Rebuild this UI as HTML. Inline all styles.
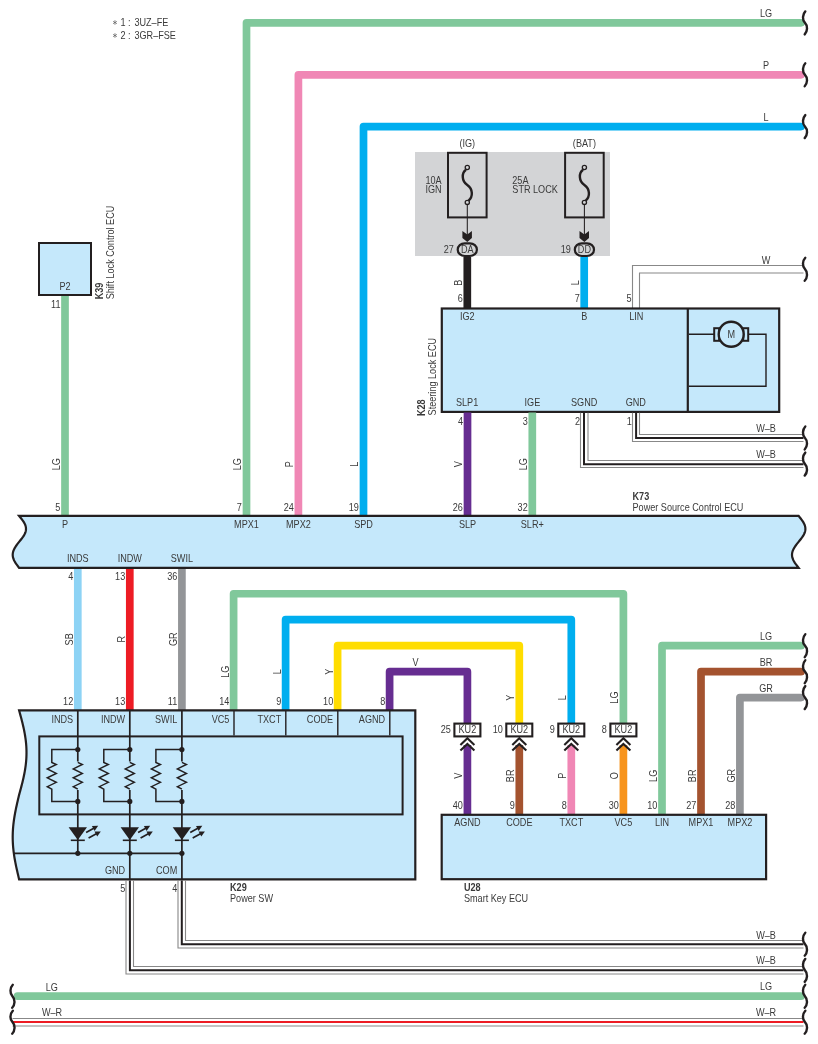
<!DOCTYPE html>
<html><head><meta charset="utf-8"><style>
html,body{margin:0;padding:0;background:#fff;}
svg{display:block;font-family:"Liberation Sans",sans-serif;}
svg{will-change:transform;}
</style></head><body>
<svg width="818" height="1044" viewBox="0 0 818 1044">
<rect width="818" height="1044" fill="#fff"/>
<text transform="translate(112.4,25.299999999999997) scale(0.885,1)" text-anchor="start" font-size="7.70" fill="#666">∗</text>
<text transform="translate(120.4,25.9) scale(0.885,1)" text-anchor="start" font-size="10.30" fill="#3a3a3a">1</text>
<text transform="translate(129.3,25.9) scale(0.885,1)" text-anchor="middle" font-size="10.30" fill="#3a3a3a">:</text>
<text transform="translate(134.4,25.9) scale(0.885,1)" text-anchor="start" font-size="10.30" fill="#3a3a3a">3UZ–FE</text>
<text transform="translate(112.4,38.1) scale(0.885,1)" text-anchor="start" font-size="7.70" fill="#666">∗</text>
<text transform="translate(120.4,38.7) scale(0.885,1)" text-anchor="start" font-size="10.30" fill="#3a3a3a">2</text>
<text transform="translate(129.3,38.7) scale(0.885,1)" text-anchor="middle" font-size="10.30" fill="#3a3a3a">:</text>
<text transform="translate(134.4,38.7) scale(0.885,1)" text-anchor="start" font-size="10.30" fill="#3a3a3a">3GR–FSE</text>
<path d="M246.5,516 V22.85 H801" fill="none" stroke="#80c89b" stroke-width="7.7" stroke-linejoin="round" stroke-linecap="round"/>
<path d="M298.4,516 V74.8 H801" fill="none" stroke="#f087b5" stroke-width="7.7" stroke-linejoin="round" stroke-linecap="round"/>
<path d="M363.5,516 V126.6 H801" fill="none" stroke="#00aeef" stroke-width="7.7" stroke-linejoin="round" stroke-linecap="round"/>
<path d="M805.3,11.4 C802.5,14.4 802.0,19.9 805.0,22.9 C808.0,25.9 807.5,31.4 804.7,34.4" fill="none" stroke="#231f20" stroke-width="2.4" stroke-linecap="round"/>
<path d="M805.3,63.3 C802.5,66.3 802.0,71.8 805.0,74.8 C808.0,77.8 807.5,83.3 804.7,86.3" fill="none" stroke="#231f20" stroke-width="2.4" stroke-linecap="round"/>
<path d="M805.3,115.1 C802.5,118.1 802.0,123.6 805.0,126.6 C808.0,129.6 807.5,135.1 804.7,138.1" fill="none" stroke="#231f20" stroke-width="2.4" stroke-linecap="round"/>
<text transform="translate(766,17.3) scale(0.885,1)" text-anchor="middle" font-size="10.30" fill="#3a3a3a">LG</text>
<text transform="translate(766,69.2) scale(0.885,1)" text-anchor="middle" font-size="10.30" fill="#3a3a3a">P</text>
<text transform="translate(766,121.2) scale(0.885,1)" text-anchor="middle" font-size="10.30" fill="#3a3a3a">L</text>
<rect x="415" y="152" width="195" height="104" fill="#d3d4d6"/>
<rect x="448.0" y="152.8" width="38.6" height="64.6" fill="none" stroke="#231f20" stroke-width="2"/>
<text transform="translate(467.3,146.5) scale(0.885,1)" text-anchor="middle" font-size="10.30" fill="#3a3a3a">(IG)</text>
<circle cx="467.3" cy="167.5" r="2.1" fill="none" stroke="#231f20" stroke-width="1.3"/>
<circle cx="467.3" cy="202.4" r="2.1" fill="none" stroke="#231f20" stroke-width="1.3"/>
<path d="M466.0,169.8 C461.5,173 461.5,181 467.3,185 C473.1,189 473.1,197 468.6,200.5" fill="none" stroke="#231f20" stroke-width="2.4"/>
<path d="M467.3,204.5 V236" stroke="#231f20" stroke-width="1.05"/>
<path d="M462.40000000000003,231.1 L467.3,234.6 L471.90000000000003,231.1 L471.90000000000003,237.9 L467.3,242 L462.40000000000003,237.9 Z" fill="#231f20"/>
<rect x="457.7" y="243.3" width="19.2" height="12.7" rx="7" ry="6.35" fill="#d3d4d6" stroke="#231f20" stroke-width="2.2"/>
<text transform="translate(467.3,252.7) scale(0.885,1)" text-anchor="middle" font-size="10.30" fill="#3a3a3a">DA</text>
<text transform="translate(453.8,252.7) scale(0.885,1)" text-anchor="end" font-size="10.30" fill="#3a3a3a">27</text>
<rect x="565.1" y="152.8" width="38.6" height="64.6" fill="none" stroke="#231f20" stroke-width="2"/>
<text transform="translate(584.4,146.5) scale(0.885,1)" text-anchor="middle" font-size="10.30" fill="#3a3a3a">(BAT)</text>
<circle cx="584.4" cy="167.5" r="2.1" fill="none" stroke="#231f20" stroke-width="1.3"/>
<circle cx="584.4" cy="202.4" r="2.1" fill="none" stroke="#231f20" stroke-width="1.3"/>
<path d="M583.1,169.8 C578.6,173 578.6,181 584.4,185 C590.1999999999999,189 590.1999999999999,197 585.6999999999999,200.5" fill="none" stroke="#231f20" stroke-width="2.4"/>
<path d="M584.4,204.5 V236" stroke="#231f20" stroke-width="1.05"/>
<path d="M579.5,231.1 L584.4,234.6 L589.0,231.1 L589.0,237.9 L584.4,242 L579.5,237.9 Z" fill="#231f20"/>
<rect x="574.8" y="243.3" width="19.2" height="12.7" rx="7" ry="6.35" fill="#d3d4d6" stroke="#231f20" stroke-width="2.2"/>
<text transform="translate(584.4,252.7) scale(0.885,1)" text-anchor="middle" font-size="10.30" fill="#3a3a3a">DD</text>
<text transform="translate(570.9,252.7) scale(0.885,1)" text-anchor="end" font-size="10.30" fill="#3a3a3a">19</text>
<text transform="translate(425.4,183.6) scale(0.885,1)" text-anchor="start" font-size="10.30" fill="#3a3a3a">10A</text>
<text transform="translate(425.4,193.3) scale(0.885,1)" text-anchor="start" font-size="10.30" fill="#3a3a3a">IGN</text>
<text transform="translate(512.3,183.6) scale(0.885,1)" text-anchor="start" font-size="10.30" fill="#3a3a3a">25A</text>
<text transform="translate(512.3,193.3) scale(0.885,1)" text-anchor="start" font-size="10.30" fill="#3a3a3a">STR LOCK</text>
<path d="M467.3,257 V308" fill="none" stroke="#231f20" stroke-width="7.7" stroke-linejoin="round" stroke-linecap="butt"/>
<path d="M584.2,257 V308" fill="none" stroke="#00aeef" stroke-width="7.7" stroke-linejoin="round" stroke-linecap="butt"/>
<text transform="translate(461.8,282.7) rotate(-90) scale(0.885,1)" text-anchor="middle" font-size="10.30" fill="#3a3a3a">B</text>
<text transform="translate(578.6,282.7) rotate(-90) scale(0.885,1)" text-anchor="middle" font-size="10.30" fill="#3a3a3a">L</text>
<text transform="translate(462.8,302.4) scale(0.885,1)" text-anchor="end" font-size="10.30" fill="#3a3a3a">6</text>
<text transform="translate(579.7,302.4) scale(0.885,1)" text-anchor="end" font-size="10.30" fill="#3a3a3a">7</text>
<path d="M632.5,309 V265.5 H803.5" fill="none" stroke="#888888" stroke-width="1.1" stroke-linejoin="miter" stroke-linecap="butt"/>
<path d="M639.5,309 V273.0 H803.5" fill="none" stroke="#888888" stroke-width="1.1" stroke-linejoin="miter" stroke-linecap="butt"/>
<path d="M805.3,257.8 C802.5,260.8 802.0,266.2 805.0,269.2 C808.0,272.2 807.5,277.8 804.7,280.8" fill="none" stroke="#231f20" stroke-width="2.4" stroke-linecap="round"/>
<text transform="translate(766,263.9) scale(0.885,1)" text-anchor="middle" font-size="10.30" fill="#3a3a3a">W</text>
<text transform="translate(631.5,302.4) scale(0.885,1)" text-anchor="end" font-size="10.30" fill="#3a3a3a">5</text>
<rect x="441.8" y="308.5" width="337.4" height="103.4" fill="#c5e8fb" stroke="#231f20" stroke-width="2.2"/>
<path d="M687.8,308.5 V411.9" stroke="#231f20" stroke-width="2.2"/>
<path d="M688.8,334.3 H716 M746,334.3 H766 V386.2 H688.8" fill="none" stroke="#231f20" stroke-width="1.4"/>
<rect x="714.2" y="328.2" width="5" height="12.6" fill="#c5e8fb" stroke="#231f20" stroke-width="2"/>
<rect x="743.2" y="328.2" width="5" height="12.6" fill="#c5e8fb" stroke="#231f20" stroke-width="2"/>
<circle cx="731.2" cy="334.2" r="12.5" fill="#c5e8fb" stroke="#231f20" stroke-width="2.4"/>
<text transform="translate(731.2,337.6) scale(0.885,1)" text-anchor="middle" font-size="10.30" fill="#3a3a3a">M</text>
<text transform="translate(467.3,320.2) scale(0.885,1)" text-anchor="middle" font-size="10.30" fill="#3a3a3a">IG2</text>
<text transform="translate(584.2,320.2) scale(0.885,1)" text-anchor="middle" font-size="10.30" fill="#3a3a3a">B</text>
<text transform="translate(636.3,320.2) scale(0.885,1)" text-anchor="middle" font-size="10.30" fill="#3a3a3a">LIN</text>
<text transform="translate(467.1,406.3) scale(0.885,1)" text-anchor="middle" font-size="10.30" fill="#3a3a3a">SLP1</text>
<text transform="translate(532.4,406.3) scale(0.885,1)" text-anchor="middle" font-size="10.30" fill="#3a3a3a">IGE</text>
<text transform="translate(584.2,406.3) scale(0.885,1)" text-anchor="middle" font-size="10.30" fill="#3a3a3a">SGND</text>
<text transform="translate(635.8,406.3) scale(0.885,1)" text-anchor="middle" font-size="10.30" fill="#3a3a3a">GND</text>
<text transform="translate(425,407.7) rotate(-90) scale(0.885,1)" text-anchor="middle" font-size="10.30" font-weight="bold" fill="#3a3a3a">K28</text>
<text transform="translate(436,415.4) rotate(-90) scale(0.885,1)" text-anchor="start" font-size="10.30" fill="#3a3a3a">Steering Lock ECU</text>
<path d="M467.5,412.5 V516" fill="none" stroke="#662d91" stroke-width="7.7" stroke-linejoin="round" stroke-linecap="butt"/>
<path d="M532.3,412.5 V516" fill="none" stroke="#80c89b" stroke-width="7.7" stroke-linejoin="round" stroke-linecap="butt"/>
<path d="M580.5,412.8 V467.5 H803.5" fill="none" stroke="#888888" stroke-width="1.1" stroke-linejoin="miter" stroke-linecap="butt"/>
<path d="M588.0,412.8 V460.5 H803.5" fill="none" stroke="#888888" stroke-width="1.1" stroke-linejoin="miter" stroke-linecap="butt"/>
<path d="M584.0,412.8 V464.2 H803.5" fill="none" stroke="#231f20" stroke-width="2.0" stroke-linejoin="miter" stroke-linecap="butt"/>
<path d="M632.5,412.8 V441.5 H803.5" fill="none" stroke="#888888" stroke-width="1.1" stroke-linejoin="miter" stroke-linecap="butt"/>
<path d="M639.5,412.8 V434.5 H803.5" fill="none" stroke="#888888" stroke-width="1.1" stroke-linejoin="miter" stroke-linecap="butt"/>
<path d="M636.1,412.8 V438.0 H803.5" fill="none" stroke="#231f20" stroke-width="2.0" stroke-linejoin="miter" stroke-linecap="butt"/>
<path d="M805.3,426.5 C802.5,429.5 802.0,435.0 805.0,438.0 C808.0,441.0 807.5,446.5 804.7,449.5" fill="none" stroke="#231f20" stroke-width="2.4" stroke-linecap="round"/>
<path d="M805.3,452.6 C802.5,455.6 802.0,461.1 805.0,464.1 C808.0,467.1 807.5,472.6 804.7,475.6" fill="none" stroke="#231f20" stroke-width="2.4" stroke-linecap="round"/>
<text transform="translate(766,432.4) scale(0.885,1)" text-anchor="middle" font-size="10.30" fill="#3a3a3a">W–B</text>
<text transform="translate(766,458.3) scale(0.885,1)" text-anchor="middle" font-size="10.30" fill="#3a3a3a">W–B</text>
<text transform="translate(463,424.6) scale(0.885,1)" text-anchor="end" font-size="10.30" fill="#3a3a3a">4</text>
<text transform="translate(527.8,424.6) scale(0.885,1)" text-anchor="end" font-size="10.30" fill="#3a3a3a">3</text>
<text transform="translate(580,424.6) scale(0.885,1)" text-anchor="end" font-size="10.30" fill="#3a3a3a">2</text>
<text transform="translate(631.9,424.6) scale(0.885,1)" text-anchor="end" font-size="10.30" fill="#3a3a3a">1</text>
<rect x="39" y="243" width="52" height="52" fill="#c5e8fb" stroke="#231f20" stroke-width="2"/>
<path d="M65,296 V516" fill="none" stroke="#80c89b" stroke-width="7.7" stroke-linejoin="round" stroke-linecap="butt"/>
<text transform="translate(65.1,289.8) scale(0.885,1)" text-anchor="middle" font-size="10.30" fill="#3a3a3a">P2</text>
<text transform="translate(60.5,308.2) scale(0.885,1)" text-anchor="end" font-size="10.30" fill="#3a3a3a">11</text>
<text transform="translate(102.9,299.3) rotate(-90) scale(0.885,1)" text-anchor="start" font-size="10.30" font-weight="bold" fill="#3a3a3a">K39</text>
<text transform="translate(113.6,299.3) rotate(-90) scale(0.885,1)" text-anchor="start" font-size="10.30" fill="#3a3a3a">Shift Lock Control ECU</text>
<text transform="translate(59.8,464.2) rotate(-90) scale(0.885,1)" text-anchor="middle" font-size="10.30" fill="#3a3a3a">LG</text>
<text transform="translate(241.3,464.2) rotate(-90) scale(0.885,1)" text-anchor="middle" font-size="10.30" fill="#3a3a3a">LG</text>
<text transform="translate(293.2,464.2) rotate(-90) scale(0.885,1)" text-anchor="middle" font-size="10.30" fill="#3a3a3a">P</text>
<text transform="translate(358.3,464.2) rotate(-90) scale(0.885,1)" text-anchor="middle" font-size="10.30" fill="#3a3a3a">L</text>
<text transform="translate(462.3,464.2) rotate(-90) scale(0.885,1)" text-anchor="middle" font-size="10.30" fill="#3a3a3a">V</text>
<text transform="translate(527.0999999999999,464.2) rotate(-90) scale(0.885,1)" text-anchor="middle" font-size="10.30" fill="#3a3a3a">LG</text>
<text transform="translate(60.4,510.7) scale(0.885,1)" text-anchor="end" font-size="10.30" fill="#3a3a3a">5</text>
<text transform="translate(241.9,510.7) scale(0.885,1)" text-anchor="end" font-size="10.30" fill="#3a3a3a">7</text>
<text transform="translate(293.79999999999995,510.7) scale(0.885,1)" text-anchor="end" font-size="10.30" fill="#3a3a3a">24</text>
<text transform="translate(358.9,510.7) scale(0.885,1)" text-anchor="end" font-size="10.30" fill="#3a3a3a">19</text>
<text transform="translate(462.9,510.7) scale(0.885,1)" text-anchor="end" font-size="10.30" fill="#3a3a3a">26</text>
<text transform="translate(527.6999999999999,510.7) scale(0.885,1)" text-anchor="end" font-size="10.30" fill="#3a3a3a">32</text>
<path d="M77.8,567 V710" fill="none" stroke="#8dd3f5" stroke-width="7.7" stroke-linejoin="round" stroke-linecap="butt"/>
<path d="M129.8,567 V710" fill="none" stroke="#ed1c24" stroke-width="7.7" stroke-linejoin="round" stroke-linecap="butt"/>
<path d="M181.9,567 V710" fill="none" stroke="#939598" stroke-width="7.7" stroke-linejoin="round" stroke-linecap="butt"/>
<text transform="translate(72.6,639.3) rotate(-90) scale(0.885,1)" text-anchor="middle" font-size="10.30" fill="#3a3a3a">SB</text>
<text transform="translate(124.60000000000001,639.3) rotate(-90) scale(0.885,1)" text-anchor="middle" font-size="10.30" fill="#3a3a3a">R</text>
<text transform="translate(176.70000000000002,639.3) rotate(-90) scale(0.885,1)" text-anchor="middle" font-size="10.30" fill="#3a3a3a">GR</text>
<text transform="translate(73.2,580.2) scale(0.885,1)" text-anchor="end" font-size="10.30" fill="#3a3a3a">4</text>
<text transform="translate(125.20000000000002,580.2) scale(0.885,1)" text-anchor="end" font-size="10.30" fill="#3a3a3a">13</text>
<text transform="translate(177.3,580.2) scale(0.885,1)" text-anchor="end" font-size="10.30" fill="#3a3a3a">36</text>
<text transform="translate(73.2,704.8) scale(0.885,1)" text-anchor="end" font-size="10.30" fill="#3a3a3a">12</text>
<text transform="translate(125.20000000000002,704.8) scale(0.885,1)" text-anchor="end" font-size="10.30" fill="#3a3a3a">13</text>
<text transform="translate(177.3,704.8) scale(0.885,1)" text-anchor="end" font-size="10.30" fill="#3a3a3a">11</text>
<text transform="translate(229.4,704.8) scale(0.885,1)" text-anchor="end" font-size="10.30" fill="#3a3a3a">14</text>
<text transform="translate(281.2,704.8) scale(0.885,1)" text-anchor="end" font-size="10.30" fill="#3a3a3a">9</text>
<text transform="translate(333.2,704.8) scale(0.885,1)" text-anchor="end" font-size="10.30" fill="#3a3a3a">10</text>
<text transform="translate(385.2,704.8) scale(0.885,1)" text-anchor="end" font-size="10.30" fill="#3a3a3a">8</text>
<path d="M233.6,710 V593.75 H623.4 V723" fill="none" stroke="#80c89b" stroke-width="7.7" stroke-linejoin="round" stroke-linecap="butt"/>
<path d="M285.6,710 V619.7 H571.3 V723" fill="none" stroke="#00aeef" stroke-width="7.7" stroke-linejoin="round" stroke-linecap="butt"/>
<path d="M337.6,710 V645.7 H519.3 V723" fill="none" stroke="#ffdd00" stroke-width="7.7" stroke-linejoin="round" stroke-linecap="butt"/>
<path d="M389.6,710 V671.7 H467.4 V723" fill="none" stroke="#662d91" stroke-width="7.7" stroke-linejoin="round" stroke-linecap="butt"/>
<text transform="translate(415.5,665.7) scale(0.885,1)" text-anchor="middle" font-size="10.30" fill="#3a3a3a">V</text>
<text transform="translate(228.8,671.7) rotate(-90) scale(0.885,1)" text-anchor="middle" font-size="10.30" fill="#3a3a3a">LG</text>
<text transform="translate(280.6,671.7) rotate(-90) scale(0.885,1)" text-anchor="middle" font-size="10.30" fill="#3a3a3a">L</text>
<text transform="translate(332.6,671.7) rotate(-90) scale(0.885,1)" text-anchor="middle" font-size="10.30" fill="#3a3a3a">Y</text>
<text transform="translate(514.0999999999999,697.6) rotate(-90) scale(0.885,1)" text-anchor="middle" font-size="10.30" fill="#3a3a3a">Y</text>
<text transform="translate(566.0999999999999,697.6) rotate(-90) scale(0.885,1)" text-anchor="middle" font-size="10.30" fill="#3a3a3a">L</text>
<text transform="translate(618.1999999999999,697.6) rotate(-90) scale(0.885,1)" text-anchor="middle" font-size="10.30" fill="#3a3a3a">LG</text>
<path d="M19.1,515.9 L798.60,515.90 L799.66,517.20 L800.70,518.50 L801.69,519.79 L802.60,521.09 L803.41,522.39 L804.10,523.68 L804.66,524.98 L805.07,526.28 L805.32,527.58 L805.40,528.88 L805.32,530.17 L805.07,531.47 L804.66,532.77 L804.10,534.06 L803.41,535.36 L802.60,536.66 L801.69,537.96 L800.70,539.25 L799.66,540.55 L798.60,541.85 L797.57,543.15 L796.56,544.44 L795.60,545.74 L794.72,547.04 L793.93,548.34 L793.26,549.63 L792.72,550.93 L792.32,552.23 L792.08,553.53 L792.00,554.82 L792.08,556.12 L792.32,557.42 L792.72,558.72 L793.26,560.01 L793.93,561.31 L794.72,562.61 L795.60,563.91 L796.56,565.20 L797.57,566.50 L798.60,567.80 L19.10,567.80 L18.10,566.50 L17.12,565.20 L16.19,563.91 L15.34,562.61 L14.57,561.31 L13.92,560.01 L13.40,558.72 L13.01,557.42 L12.78,556.12 L12.70,554.82 L12.78,553.53 L13.01,552.23 L13.40,550.93 L13.92,549.63 L14.57,548.34 L15.34,547.04 L16.19,545.74 L17.12,544.44 L18.10,543.15 L19.10,541.85 L20.18,540.55 L21.23,539.25 L22.23,537.96 L23.16,536.66 L23.98,535.36 L24.68,534.06 L25.25,532.77 L25.66,531.47 L25.92,530.17 L26.00,528.88 L25.92,527.58 L25.66,526.28 L25.25,524.98 L24.68,523.68 L23.98,522.39 L23.16,521.09 L22.23,519.79 L21.23,518.50 L20.18,517.20 L19.10,515.90 Z" fill="#c5e8fb" stroke="#231f20" stroke-width="2.2" stroke-linejoin="miter"/>
<text transform="translate(632.5,499.8) scale(0.885,1)" text-anchor="start" font-size="10.30" font-weight="bold" fill="#3a3a3a">K73</text>
<text transform="translate(632.5,510.7) scale(0.885,1)" text-anchor="start" font-size="10.30" fill="#3a3a3a">Power Source Control ECU</text>
<text transform="translate(65,527.5) scale(0.885,1)" text-anchor="middle" font-size="10.30" fill="#3a3a3a">P</text>
<text transform="translate(246.5,527.5) scale(0.885,1)" text-anchor="middle" font-size="10.30" fill="#3a3a3a">MPX1</text>
<text transform="translate(298.4,527.5) scale(0.885,1)" text-anchor="middle" font-size="10.30" fill="#3a3a3a">MPX2</text>
<text transform="translate(363.5,527.5) scale(0.885,1)" text-anchor="middle" font-size="10.30" fill="#3a3a3a">SPD</text>
<text transform="translate(467.5,527.5) scale(0.885,1)" text-anchor="middle" font-size="10.30" fill="#3a3a3a">SLP</text>
<text transform="translate(532.3,527.5) scale(0.885,1)" text-anchor="middle" font-size="10.30" fill="#3a3a3a">SLR+</text>
<text transform="translate(77.8,562.4) scale(0.885,1)" text-anchor="middle" font-size="10.30" fill="#3a3a3a">INDS</text>
<text transform="translate(129.8,562.4) scale(0.885,1)" text-anchor="middle" font-size="10.30" fill="#3a3a3a">INDW</text>
<text transform="translate(181.9,562.4) scale(0.885,1)" text-anchor="middle" font-size="10.30" fill="#3a3a3a">SWIL</text>
<path d="M19.1,710.4 H415.3 V879.3 L19.10,879.30 L18.60,877.19 L18.10,875.08 L17.61,872.97 L17.12,870.86 L16.65,868.74 L16.19,866.63 L15.76,864.52 L15.34,862.41 L14.94,860.30 L14.57,858.19 L14.23,856.08 L13.92,853.96 L13.64,851.85 L13.40,849.74 L13.19,847.63 L13.01,845.52 L12.88,843.41 L12.78,841.30 L12.72,839.19 L12.70,837.07 L12.72,834.96 L12.78,832.85 L12.88,830.74 L13.01,828.63 L13.19,826.52 L13.40,824.41 L13.64,822.30 L13.92,820.18 L14.23,818.07 L14.57,815.96 L14.94,813.85 L15.34,811.74 L15.76,809.63 L16.19,807.52 L16.65,805.41 L17.12,803.29 L17.61,801.18 L18.10,799.07 L18.60,796.96 L19.10,794.85 L19.68,792.74 L20.26,790.63 L20.83,788.52 L21.39,786.40 L21.93,784.29 L22.46,782.18 L22.97,780.07 L23.45,777.96 L23.91,775.85 L24.33,773.74 L24.73,771.63 L25.09,769.51 L25.41,767.40 L25.69,765.29 L25.94,763.18 L26.14,761.07 L26.30,758.96 L26.41,756.85 L26.48,754.74 L26.50,752.62 L26.48,750.51 L26.41,748.40 L26.30,746.29 L26.14,744.18 L25.94,742.07 L25.69,739.96 L25.41,737.85 L25.09,735.74 L24.73,733.62 L24.33,731.51 L23.91,729.40 L23.45,727.29 L22.97,725.18 L22.46,723.07 L21.93,720.96 L21.39,718.85 L20.83,716.73 L20.26,714.62 L19.68,712.51 L19.10,710.40 Z" fill="#c5e8fb" stroke="#231f20" stroke-width="2.2"/>
<rect x="39.3" y="736.4" width="363.3" height="78" fill="none" stroke="#231f20" stroke-width="2"/>
<path d="M234,711 V735.5" stroke="#231f20" stroke-width="1.4"/>
<path d="M285.8,711 V735.5" stroke="#231f20" stroke-width="1.4"/>
<path d="M337.8,711 V735.5" stroke="#231f20" stroke-width="1.4"/>
<path d="M389.8,711 V735.5" stroke="#231f20" stroke-width="1.4"/>
<text transform="translate(73.2,723.2) scale(0.885,1)" text-anchor="end" font-size="10.30" fill="#3a3a3a">INDS</text>
<text transform="translate(125.20000000000002,723.2) scale(0.885,1)" text-anchor="end" font-size="10.30" fill="#3a3a3a">INDW</text>
<text transform="translate(177.3,723.2) scale(0.885,1)" text-anchor="end" font-size="10.30" fill="#3a3a3a">SWIL</text>
<text transform="translate(229.4,723.2) scale(0.885,1)" text-anchor="end" font-size="10.30" fill="#3a3a3a">VC5</text>
<text transform="translate(281.2,723.2) scale(0.885,1)" text-anchor="end" font-size="10.30" fill="#3a3a3a">TXCT</text>
<text transform="translate(333.2,723.2) scale(0.885,1)" text-anchor="end" font-size="10.30" fill="#3a3a3a">CODE</text>
<text transform="translate(385.2,723.2) scale(0.885,1)" text-anchor="end" font-size="10.30" fill="#3a3a3a">AGND</text>
<path d="M77.8,711 V853.3 M129.8,711 V879 M181.9,711 V879" stroke="#231f20" stroke-width="1.7"/>
<path d="M14,853.3 H181.9" stroke="#231f20" stroke-width="1.7"/>
<path d="M77.8,749.4 H51.8 V762.4 L51.8,762.4 L56.3,764.5 L47.3,768.9 L56.3,773.4 L47.3,777.8 L56.3,782.3 L47.3,786.7 L51.8,789.2 V801.4 H77.8" fill="none" stroke="#231f20" stroke-width="1.5"/>
<path d="M77.8,761.5 V790" stroke="#c5e8fb" stroke-width="3"/>
<path d="M77.8,762.4 L82.3,764.5 L73.3,768.9 L82.3,773.4 L73.3,777.8 L82.3,782.3 L73.3,786.7 L77.8,789.2" fill="none" stroke="#231f20" stroke-width="1.5"/>
<circle cx="77.8" cy="749.5" r="2.6" fill="#231f20"/>
<circle cx="77.8" cy="801.4" r="2.6" fill="#231f20"/>
<circle cx="77.8" cy="853.3" r="2.6" fill="#231f20"/>
<path d="M68.6,827.3 H87.0 L77.8,840 Z" fill="#231f20"/>
<path d="M70.8,840.3 H84.8" stroke="#231f20" stroke-width="1.6"/>
<path d="M86.1,832.4 L94.2,828.0" stroke="#231f20" stroke-width="1.7"/>
<path d="M98.2,825.8 L94.6,830.9 L91.9,826.0 Z" fill="#231f20"/>
<path d="M88.6,838.0 L96.8,833.6" stroke="#231f20" stroke-width="1.7"/>
<path d="M100.8,831.4 L97.2,836.5 L94.5,831.6 Z" fill="#231f20"/>
<path d="M129.8,749.4 H103.80000000000001 V762.4 L103.8,762.4 L108.3,764.5 L99.3,768.9 L108.3,773.4 L99.3,777.8 L108.3,782.3 L99.3,786.7 L103.8,789.2 V801.4 H129.8" fill="none" stroke="#231f20" stroke-width="1.5"/>
<path d="M129.8,761.5 V790" stroke="#c5e8fb" stroke-width="3"/>
<path d="M129.8,762.4 L134.3,764.5 L125.3,768.9 L134.3,773.4 L125.3,777.8 L134.3,782.3 L125.3,786.7 L129.8,789.2" fill="none" stroke="#231f20" stroke-width="1.5"/>
<circle cx="129.8" cy="749.5" r="2.6" fill="#231f20"/>
<circle cx="129.8" cy="801.4" r="2.6" fill="#231f20"/>
<circle cx="129.8" cy="853.3" r="2.6" fill="#231f20"/>
<path d="M120.60000000000001,827.3 H139.0 L129.8,840 Z" fill="#231f20"/>
<path d="M122.80000000000001,840.3 H136.8" stroke="#231f20" stroke-width="1.6"/>
<path d="M138.1,832.4 L146.2,828.0" stroke="#231f20" stroke-width="1.7"/>
<path d="M150.2,825.8 L146.6,830.9 L143.9,826.0 Z" fill="#231f20"/>
<path d="M140.6,838.0 L148.8,833.6" stroke="#231f20" stroke-width="1.7"/>
<path d="M152.8,831.4 L149.2,836.5 L146.5,831.6 Z" fill="#231f20"/>
<path d="M181.9,749.4 H155.9 V762.4 L155.9,762.4 L160.4,764.5 L151.4,768.9 L160.4,773.4 L151.4,777.8 L160.4,782.3 L151.4,786.7 L155.9,789.2 V801.4 H181.9" fill="none" stroke="#231f20" stroke-width="1.5"/>
<path d="M181.9,761.5 V790" stroke="#c5e8fb" stroke-width="3"/>
<path d="M181.9,762.4 L186.4,764.5 L177.4,768.9 L186.4,773.4 L177.4,777.8 L186.4,782.3 L177.4,786.7 L181.9,789.2" fill="none" stroke="#231f20" stroke-width="1.5"/>
<circle cx="181.9" cy="749.5" r="2.6" fill="#231f20"/>
<circle cx="181.9" cy="801.4" r="2.6" fill="#231f20"/>
<circle cx="181.9" cy="853.3" r="2.6" fill="#231f20"/>
<path d="M172.70000000000002,827.3 H191.1 L181.9,840 Z" fill="#231f20"/>
<path d="M174.9,840.3 H188.9" stroke="#231f20" stroke-width="1.6"/>
<path d="M190.2,832.4 L198.3,828.0" stroke="#231f20" stroke-width="1.7"/>
<path d="M202.3,825.8 L198.7,830.9 L196.0,826.0 Z" fill="#231f20"/>
<path d="M192.7,838.0 L200.9,833.6" stroke="#231f20" stroke-width="1.7"/>
<path d="M204.9,831.4 L201.3,836.5 L198.6,831.6 Z" fill="#231f20"/>
<text transform="translate(125.2,873.5) scale(0.885,1)" text-anchor="end" font-size="10.30" fill="#3a3a3a">GND</text>
<text transform="translate(177.3,873.5) scale(0.885,1)" text-anchor="end" font-size="10.30" fill="#3a3a3a">COM</text>
<text transform="translate(230,890.8) scale(0.885,1)" text-anchor="start" font-size="10.30" font-weight="bold" fill="#3a3a3a">K29</text>
<text transform="translate(230,901.8) scale(0.885,1)" text-anchor="start" font-size="10.30" fill="#3a3a3a">Power SW</text>
<text transform="translate(125.4,891.5) scale(0.885,1)" text-anchor="end" font-size="10.30" fill="#3a3a3a">5</text>
<text transform="translate(177.4,891.5) scale(0.885,1)" text-anchor="end" font-size="10.30" fill="#3a3a3a">4</text>
<path d="M126.0,880.5 V974.0 H803.5" fill="none" stroke="#888888" stroke-width="1.1" stroke-linejoin="miter" stroke-linecap="butt"/>
<path d="M133.5,880.5 V966.5 H803.5" fill="none" stroke="#888888" stroke-width="1.1" stroke-linejoin="miter" stroke-linecap="butt"/>
<path d="M129.9,880.5 V970.3 H803.5" fill="none" stroke="#231f20" stroke-width="2.0" stroke-linejoin="miter" stroke-linecap="butt"/>
<path d="M178.0,880.5 V948.0 H803.5" fill="none" stroke="#888888" stroke-width="1.1" stroke-linejoin="miter" stroke-linecap="butt"/>
<path d="M185.5,880.5 V940.5 H803.5" fill="none" stroke="#888888" stroke-width="1.1" stroke-linejoin="miter" stroke-linecap="butt"/>
<path d="M181.8,880.5 V944.2 H803.5" fill="none" stroke="#231f20" stroke-width="2.0" stroke-linejoin="miter" stroke-linecap="butt"/>
<path d="M805.3,932.7 C802.5,935.7 802.0,941.2 805.0,944.2 C808.0,947.2 807.5,952.7 804.7,955.7" fill="none" stroke="#231f20" stroke-width="2.4" stroke-linecap="round"/>
<path d="M805.3,958.9 C802.5,961.9 802.0,967.4 805.0,970.4 C808.0,973.4 807.5,978.9 804.7,981.9" fill="none" stroke="#231f20" stroke-width="2.4" stroke-linecap="round"/>
<text transform="translate(766,938.5) scale(0.885,1)" text-anchor="middle" font-size="10.30" fill="#3a3a3a">W–B</text>
<text transform="translate(766,964.4) scale(0.885,1)" text-anchor="middle" font-size="10.30" fill="#3a3a3a">W–B</text>
<path d="M17.5,996.2 H801" fill="none" stroke="#80c89b" stroke-width="7.7" stroke-linejoin="round" stroke-linecap="round"/>
<path d="M12.5,1018.5 H803.5" fill="none" stroke="#888888" stroke-width="1.1" stroke-linejoin="miter" stroke-linecap="butt"/>
<path d="M12.5,1026.0 H803.5" fill="none" stroke="#888888" stroke-width="1.1" stroke-linejoin="miter" stroke-linecap="butt"/>
<path d="M12.5,1022.0 H803.5" fill="none" stroke="#ed1c24" stroke-width="2.0" stroke-linejoin="miter" stroke-linecap="butt"/>
<path d="M12.8,984.8 C10.0,987.8 9.5,993.3 12.5,996.3 C15.5,999.3 15.0,1004.8 12.2,1007.8" fill="none" stroke="#231f20" stroke-width="2.4" stroke-linecap="round"/>
<path d="M12.8,1010.7 C10.0,1013.7 9.5,1019.2 12.5,1022.2 C15.5,1025.2 15.0,1030.7 12.2,1033.7" fill="none" stroke="#231f20" stroke-width="2.4" stroke-linecap="round"/>
<path d="M805.3,984.8 C802.5,987.8 802.0,993.3 805.0,996.3 C808.0,999.3 807.5,1004.8 804.7,1007.8" fill="none" stroke="#231f20" stroke-width="2.4" stroke-linecap="round"/>
<path d="M805.3,1010.7 C802.5,1013.7 802.0,1019.2 805.0,1022.2 C808.0,1025.2 807.5,1030.7 804.7,1033.7" fill="none" stroke="#231f20" stroke-width="2.4" stroke-linecap="round"/>
<text transform="translate(51.8,990.5) scale(0.885,1)" text-anchor="middle" font-size="10.30" fill="#3a3a3a">LG</text>
<text transform="translate(52,1016.4) scale(0.885,1)" text-anchor="middle" font-size="10.30" fill="#3a3a3a">W–R</text>
<text transform="translate(766,990.4) scale(0.885,1)" text-anchor="middle" font-size="10.30" fill="#3a3a3a">LG</text>
<text transform="translate(766,1016.4) scale(0.885,1)" text-anchor="middle" font-size="10.30" fill="#3a3a3a">W–R</text>
<path d="M467.4,745 V814" fill="none" stroke="#662d91" stroke-width="7.7" stroke-linejoin="round" stroke-linecap="butt"/>
<path d="M519.3,745 V814" fill="none" stroke="#a4532f" stroke-width="7.7" stroke-linejoin="round" stroke-linecap="butt"/>
<path d="M571.3,745 V814" fill="none" stroke="#f087b5" stroke-width="7.7" stroke-linejoin="round" stroke-linecap="butt"/>
<path d="M623.4,745 V814" fill="none" stroke="#f7941d" stroke-width="7.7" stroke-linejoin="round" stroke-linecap="butt"/>
<rect x="454.4" y="723.6" width="26" height="12.8" fill="#fff" stroke="#231f20" stroke-width="2.1"/>
<text transform="translate(467.4,733.2) scale(0.885,1)" text-anchor="middle" font-size="10.30" fill="#3a3a3a">KU2</text>
<text transform="translate(450.9,733.2) scale(0.885,1)" text-anchor="end" font-size="10.30" fill="#3a3a3a">25</text>
<path d="M460.4,745 L467.4,738.3 L474.4,745 M460.4,750.6 L467.4,743.9 L474.4,750.6" fill="none" stroke="#231f20" stroke-width="2.1"/>
<rect x="506.29999999999995" y="723.6" width="26" height="12.8" fill="#fff" stroke="#231f20" stroke-width="2.1"/>
<text transform="translate(519.3,733.2) scale(0.885,1)" text-anchor="middle" font-size="10.30" fill="#3a3a3a">KU2</text>
<text transform="translate(502.79999999999995,733.2) scale(0.885,1)" text-anchor="end" font-size="10.30" fill="#3a3a3a">10</text>
<path d="M512.3,745 L519.3,738.3 L526.3,745 M512.3,750.6 L519.3,743.9 L526.3,750.6" fill="none" stroke="#231f20" stroke-width="2.1"/>
<rect x="558.3" y="723.6" width="26" height="12.8" fill="#fff" stroke="#231f20" stroke-width="2.1"/>
<text transform="translate(571.3,733.2) scale(0.885,1)" text-anchor="middle" font-size="10.30" fill="#3a3a3a">KU2</text>
<text transform="translate(554.8,733.2) scale(0.885,1)" text-anchor="end" font-size="10.30" fill="#3a3a3a">9</text>
<path d="M564.3,745 L571.3,738.3 L578.3,745 M564.3,750.6 L571.3,743.9 L578.3,750.6" fill="none" stroke="#231f20" stroke-width="2.1"/>
<rect x="610.4" y="723.6" width="26" height="12.8" fill="#fff" stroke="#231f20" stroke-width="2.1"/>
<text transform="translate(623.4,733.2) scale(0.885,1)" text-anchor="middle" font-size="10.30" fill="#3a3a3a">KU2</text>
<text transform="translate(606.9,733.2) scale(0.885,1)" text-anchor="end" font-size="10.30" fill="#3a3a3a">8</text>
<path d="M616.4,745 L623.4,738.3 L630.4,745 M616.4,750.6 L623.4,743.9 L630.4,750.6" fill="none" stroke="#231f20" stroke-width="2.1"/>
<text transform="translate(462.2,775.8) rotate(-90) scale(0.885,1)" text-anchor="middle" font-size="10.30" fill="#3a3a3a">V</text>
<text transform="translate(514.0999999999999,775.8) rotate(-90) scale(0.885,1)" text-anchor="middle" font-size="10.30" fill="#3a3a3a">BR</text>
<text transform="translate(566.0999999999999,775.8) rotate(-90) scale(0.885,1)" text-anchor="middle" font-size="10.30" fill="#3a3a3a">P</text>
<text transform="translate(618.1999999999999,775.8) rotate(-90) scale(0.885,1)" text-anchor="middle" font-size="10.30" fill="#3a3a3a">O</text>
<text transform="translate(656.8,775.8) rotate(-90) scale(0.885,1)" text-anchor="middle" font-size="10.30" fill="#3a3a3a">LG</text>
<text transform="translate(695.8,775.8) rotate(-90) scale(0.885,1)" text-anchor="middle" font-size="10.30" fill="#3a3a3a">BR</text>
<text transform="translate(734.8,775.8) rotate(-90) scale(0.885,1)" text-anchor="middle" font-size="10.30" fill="#3a3a3a">GR</text>
<text transform="translate(462.79999999999995,809) scale(0.885,1)" text-anchor="end" font-size="10.30" fill="#3a3a3a">40</text>
<text transform="translate(514.6999999999999,809) scale(0.885,1)" text-anchor="end" font-size="10.30" fill="#3a3a3a">9</text>
<text transform="translate(566.6999999999999,809) scale(0.885,1)" text-anchor="end" font-size="10.30" fill="#3a3a3a">8</text>
<text transform="translate(618.8,809) scale(0.885,1)" text-anchor="end" font-size="10.30" fill="#3a3a3a">30</text>
<text transform="translate(657.4,809) scale(0.885,1)" text-anchor="end" font-size="10.30" fill="#3a3a3a">10</text>
<text transform="translate(696.4,809) scale(0.885,1)" text-anchor="end" font-size="10.30" fill="#3a3a3a">27</text>
<text transform="translate(735.4,809) scale(0.885,1)" text-anchor="end" font-size="10.30" fill="#3a3a3a">28</text>
<path d="M662,814 V645.7 H801" fill="none" stroke="#80c89b" stroke-width="7.7" stroke-linejoin="round" stroke-linecap="round"/>
<path d="M701,814 V671.7 H801" fill="none" stroke="#a4532f" stroke-width="7.7" stroke-linejoin="round" stroke-linecap="round"/>
<path d="M739.9,814 V697.6 H801" fill="none" stroke="#939598" stroke-width="7.7" stroke-linejoin="round" stroke-linecap="round"/>
<path d="M805.3,634.2 C802.5,637.2 802.0,642.7 805.0,645.7 C808.0,648.7 807.5,654.2 804.7,657.2" fill="none" stroke="#231f20" stroke-width="2.4" stroke-linecap="round"/>
<path d="M805.3,660.2 C802.5,663.2 802.0,668.7 805.0,671.7 C808.0,674.7 807.5,680.2 804.7,683.2" fill="none" stroke="#231f20" stroke-width="2.4" stroke-linecap="round"/>
<path d="M805.3,686.1 C802.5,689.1 802.0,694.6 805.0,697.6 C808.0,700.6 807.5,706.1 804.7,709.1" fill="none" stroke="#231f20" stroke-width="2.4" stroke-linecap="round"/>
<text transform="translate(766,640.2) scale(0.885,1)" text-anchor="middle" font-size="10.30" fill="#3a3a3a">LG</text>
<text transform="translate(766,666) scale(0.885,1)" text-anchor="middle" font-size="10.30" fill="#3a3a3a">BR</text>
<text transform="translate(766,691.9) scale(0.885,1)" text-anchor="middle" font-size="10.30" fill="#3a3a3a">GR</text>
<rect x="441.7" y="814.8" width="324.4" height="64.4" fill="#c5e8fb" stroke="#231f20" stroke-width="2.2"/>
<text transform="translate(467.4,825.7) scale(0.885,1)" text-anchor="middle" font-size="10.30" fill="#3a3a3a">AGND</text>
<text transform="translate(519.3,825.7) scale(0.885,1)" text-anchor="middle" font-size="10.30" fill="#3a3a3a">CODE</text>
<text transform="translate(571.3,825.7) scale(0.885,1)" text-anchor="middle" font-size="10.30" fill="#3a3a3a">TXCT</text>
<text transform="translate(623.4,825.7) scale(0.885,1)" text-anchor="middle" font-size="10.30" fill="#3a3a3a">VC5</text>
<text transform="translate(662,825.7) scale(0.885,1)" text-anchor="middle" font-size="10.30" fill="#3a3a3a">LIN</text>
<text transform="translate(701,825.7) scale(0.885,1)" text-anchor="middle" font-size="10.30" fill="#3a3a3a">MPX1</text>
<text transform="translate(740,825.7) scale(0.885,1)" text-anchor="middle" font-size="10.30" fill="#3a3a3a">MPX2</text>
<text transform="translate(463.9,890.6) scale(0.885,1)" text-anchor="start" font-size="10.30" font-weight="bold" fill="#3a3a3a">U28</text>
<text transform="translate(463.9,901.8) scale(0.885,1)" text-anchor="start" font-size="10.30" fill="#3a3a3a">Smart Key ECU</text>
</svg>
</body></html>
